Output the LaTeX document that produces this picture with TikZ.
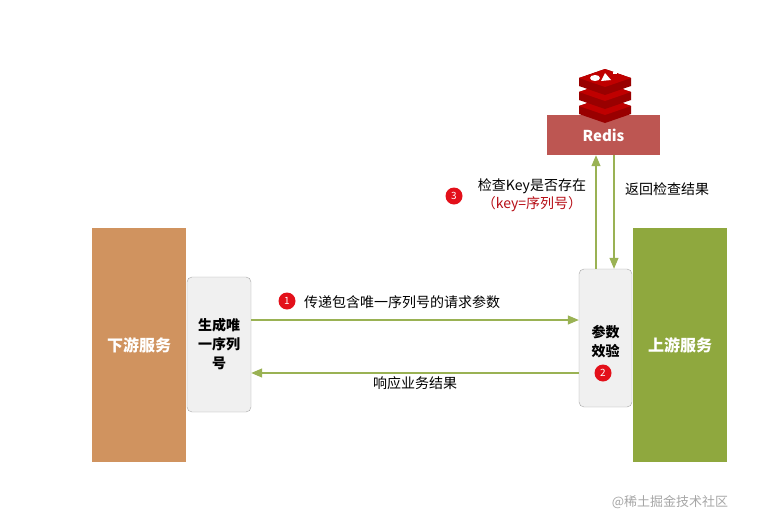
\documentclass[tikz,border=0pt]{standalone}
\usepackage{fontspec}
\setmainfont{Noto Sans CJK SC}
\usetikzlibrary{positioning, arrows.meta}
\definecolor{downc}{HTML}{D0935F}
\definecolor{upc}{HTML}{8FA83E}
\definecolor{linec}{HTML}{9AB254}
\definecolor{redisc}{HTML}{BD5652}
\definecolor{badge}{HTML}{E3101A}
\tikzset{
    service/.style={minimum width=94pt, minimum height=234pt, text=white, font=\bfseries\fontsize{16}{19}\selectfont}, % the two big services
    stepbox/.style={draw=gray!70, fill=gray!12, rounded corners=5pt},
    steptext/.style={font=\bfseries\fontsize{14}{19}\selectfont, align=center},
    flow/.style={-{Triangle[length=11pt,width=9pt]}, linec, line width=1.2pt},
    num/.style={circle, fill=badge, text=white, inner sep=0pt, minimum size=17pt, font=\fontsize{10}{10}\selectfont},
    lbl/.style={font=\fontsize{14}{18}\selectfont, inner sep=1pt},
}
\begin{document}
\begin{tikzpicture}[x=1pt, y=-1pt]
    \useasboundingbox (0,0) rectangle (758,517);
    \node[service, fill=downc] (down) at (139,345) {下游服务};
    \node[service, fill=upc] (up) at (680,345) {上游服务};
    \node[stepbox, minimum width=64pt, minimum height=135pt] (gen) at (219,344.5) {};
    \node[steptext] (gent) at (gen.center) {生成唯\\一序列\\号};
    \node[stepbox, minimum width=53pt, minimum height=138pt] (check) at (605.5,338) {};
    \node[steptext] (checkt) at (605.5,342) {参数\\效验};
    \node[fill=redisc, minimum width=113pt, minimum height=40pt, text=white, font=\bfseries\fontsize{15}{18}\selectfont] (redis) at (603.5,135) {Redis};
    % redis logo
    \foreach \dy in {28,14,0} {
        \fill[red!60!black] (579,78+\dy) -- (605,69+\dy) -- (631,78+\dy) -- (631,86+\dy) -- (605,95+\dy) -- (579,86+\dy) -- cycle;
        \fill[red!75!black] (579,78+\dy) -- (605,69+\dy) -- (631,78+\dy) -- (605,87+\dy) -- cycle;
    }
    \fill[white] (595,78) ellipse (5pt and 3pt);
    \fill[white] (605,73) -- (611,80) -- (601,81) -- cycle;
    \fill[white] (613,72) rectangle (617,74);
    % connectors
    \coordinate (a1) at (gen.east |- 0,320);
    \coordinate (b1) at (check.west |- 0,320);
    \coordinate (a2) at (check.west |- 0,373);
    \coordinate (b2) at (gen.east |- 0,373);
    \draw[flow] (a1) -- (b1);
    \draw[flow] (a2) -- (b2);
    \draw[flow] (check.north -| 596,0) -- (redis.south -| 596,0);
    \draw[flow] (redis.south -| 614,0) -- (check.north -| 614,0);
    % labels
    \node[lbl] (l1) at (402,302) {传递包含唯一序列号的请求参数};
    \node[lbl] (l2) at (415,383) {响应业务结果};
    \node[lbl, align=center] (l3) at (532,195) {检查Key是否存在\\\textcolor{badge!80!black}{（key=序列号）}};
    \node[lbl] (l4) at (667,189) {返回检查结果};
    \node[num] (n1) at (287,301) {1};
    \node[num] (n2) at (603,373) {2};
    \node[num] (n3) at (454,196) {3};
    \node[font=\fontsize{13}{15}\selectfont, text=gray!70] (wm) at (670,502) {@稀土掘金技术社区};
\end{tikzpicture}
\end{document}
